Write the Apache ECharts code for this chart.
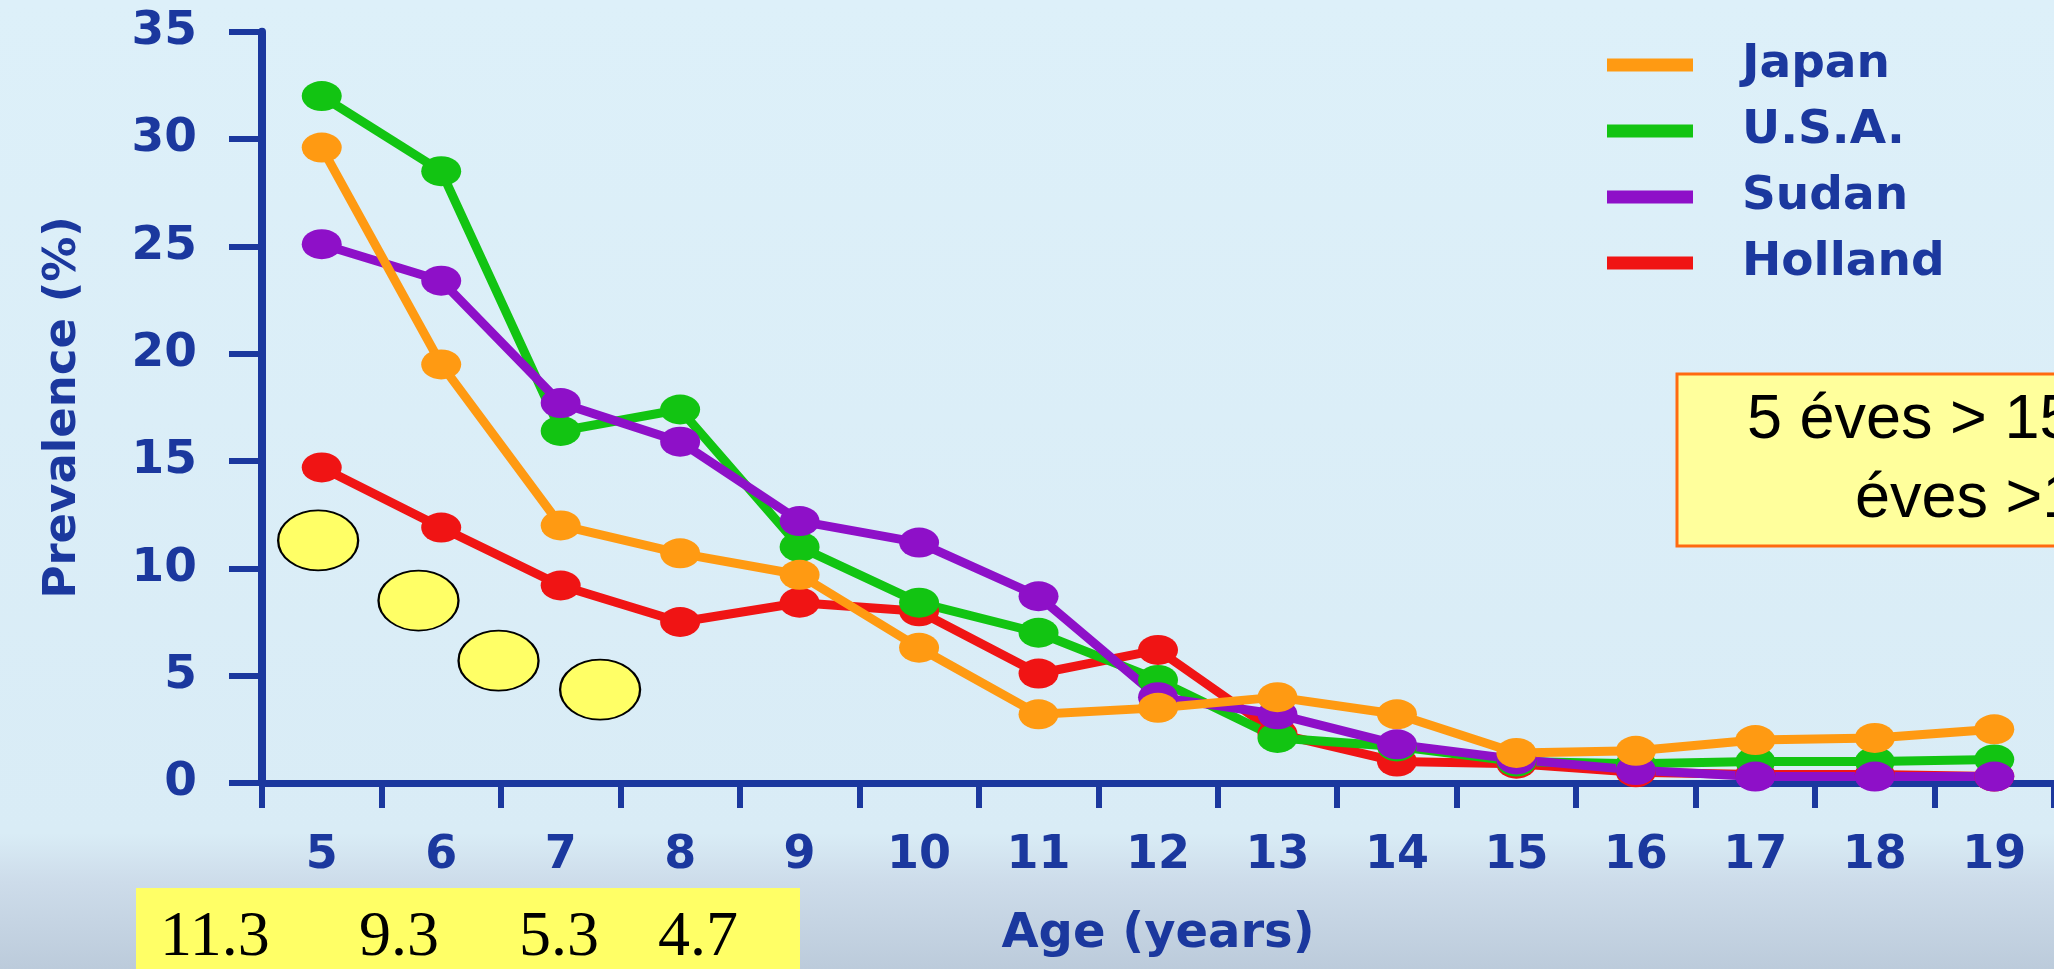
<!DOCTYPE html>
<html><head><meta charset="utf-8">
<script src="https://cdn.jsdelivr.net/npm/echarts@6/dist/echarts.min.js"></script>
<style>html,body{margin:0;padding:0;overflow:hidden;background:#dcf0fa}#c{width:2054px;height:969px}</style>
</head><body><div id="c"></div>
<script>
// ---- data ----
const ages    = ['5','6','7','8','9','10','11','12','13','14','15','16','17','18','19'];
const japan   = [29.6, 19.5, 12.0, 10.7, 9.7, 6.3, 3.2, 3.5, 4.0, 3.2, 1.4, 1.5, 2.0, 2.1, 2.5];
const usa     = [32.0, 28.5, 16.4, 17.4, 11.0, 8.4, 7.0, 4.8, 2.1, 1.7, 1.0, 0.9, 1.0, 1.0, 1.1];
const sudan   = [25.1, 23.4, 17.7, 15.9, 12.2, 11.2, 8.7, 4.0, 3.2, 1.8, 1.1, 0.6, 0.3, 0.3, 0.3];
const holland = [14.7, 11.9, 9.2, 7.5, 8.4, 8.0, 5.1, 6.2, 2.3, 1.0, 0.9, 0.5, 0.4, 0.4, 0.3];
const seriesNames = ['Japan', 'U.S.A.', 'Sudan', 'Holland'];
// yellow ellipse annotations (x in category units from the left axis, y in %)
const ellipseX = [0.47, 1.31, 1.98, 2.83];
const ellipseY = [11.3, 8.5, 5.7, 4.35];
const bottomLabels = ['11.3', '9.3', '5.3', '4.7'];
const boxLines = ['5 éves > 15', 'éves >1'];

const NAVY = '#1b389e';
const COLORS = {Japan:'#ff9a12', 'U.S.A.':'#12c412', Sudan:'#8e10c8', Holland:'#f01414'};
const ELLIPSE = 'path://M0,50A50,50,0,1,1,100,50A50,50,0,1,1,0,50Z';
const FONT = 'DejaVu Sans';

function lineSeries(name, data) {
  return {
    name: name, type: 'line', data: data,
    xAxisIndex: 0, yAxisIndex: 0,
    symbol: ELLIPSE, symbolSize: [40, 30], showAllSymbol: true,
    lineStyle: {color: COLORS[name], width: 9},
    itemStyle: {color: COLORS[name]},
    silent: true
  };
}

const chart = echarts.init(document.getElementById('c'), null, {renderer: 'canvas'});
const option = {
  animation: false,
  backgroundColor: {
    type: 'linear', x: 0, y: 0, x2: 0, y2: 1,
    colorStops: [
      {offset: 0, color: '#ddf0f9'},
      {offset: 0.86, color: '#d9ecf6'},
      {offset: 0.91, color: '#cddcea'},
      {offset: 1, color: '#bccbdb'}
    ]
  },
  grid: {left: 262, right: 0, top: 31.7, bottom: 186, containLabel: false},
  legend: {
    data: seriesNames, orient: 'vertical', left: 1602, top: 35,
    icon: 'rect', itemWidth: 86, itemHeight: 13, itemGap: 16,
    textStyle: {fontFamily: FONT, fontWeight: 'bold', fontSize: 47, color: NAVY, lineHeight: 50, padding: [0, 0, 0, 44]}
  },
  xAxis: [{
    type: 'category', data: ages, boundaryGap: true,
    axisLine: {lineStyle: {color: NAVY, width: 7}},
    axisTick: {show: true, interval: 0, length: 25, lineStyle: {color: NAVY, width: 6}},
    axisLabel: {interval: 0, margin: 50, fontFamily: FONT, fontWeight: 'bold', fontSize: 46, color: NAVY},
    splitLine: {show: false},
    name: 'Age (years)', nameLocation: 'middle', nameGap: 128,
    nameTextStyle: {fontFamily: FONT, fontWeight: 'bold', fontSize: 48, color: NAVY}
  }, {
    type: 'value', min: 0, max: 15, show: false
  }],
  yAxis: [{
    type: 'value', min: 0, max: 35, interval: 5,
    axisLine: {show: true, lineStyle: {color: NAVY, width: 8}},
    axisTick: {show: true, length: 33, lineStyle: {color: NAVY, width: 6}},
    axisLabel: {margin: 65, fontFamily: FONT, fontWeight: 'bold', fontSize: 47, color: NAVY},
    splitLine: {show: false},
    name: 'Prevalence (%)', nameLocation: 'middle', nameRotate: 90, nameGap: 176,
    nameTextStyle: {fontFamily: FONT, fontWeight: 'bold', fontSize: 45, color: NAVY}
  }],
  series: [
    lineSeries('Holland', holland),
    lineSeries('U.S.A.', usa),
    lineSeries('Sudan', sudan),
    lineSeries('Japan', japan),
    {
      name: 'annot', type: 'scatter', xAxisIndex: 1, yAxisIndex: 0,
      data: ellipseX.map((x, i) => [x, ellipseY[i]]),
      symbol: ELLIPSE, symbolSize: [80, 60], z: 5, silent: true,
      itemStyle: {color: '#ffff66', borderColor: '#000000', borderWidth: 2, opacity: 1}
    }
  ],
  graphic: [
    {type: 'rect', z: 100, shape: {x: 1677, y: 374, width: 420, height: 172},
     style: {fill: '#ffff9c', stroke: '#ff6a10', lineWidth: 3}},
    {type: 'text', z: 101, style: {x: 1747, y: 421, text: boxLines[0], fill: '#000',
      font: '63px "Liberation Sans"', verticalAlign: 'middle', align: 'left'}},
    {type: 'text', z: 101, style: {x: 1855, y: 500, text: boxLines[1], fill: '#000',
      font: '63px "Liberation Sans"', verticalAlign: 'middle', align: 'left'}},
    {type: 'rect', z: 100, shape: {x: 136, y: 888, width: 664, height: 90},
     style: {fill: '#ffff66'}},
    {type: 'text', z: 101, style: {x: 160, y: 938, text: bottomLabels[0], fill: '#000', font: '64px "Liberation Serif"', verticalAlign: 'middle'}},
    {type: 'text', z: 101, style: {x: 359, y: 938, text: bottomLabels[1], fill: '#000', font: '64px "Liberation Serif"', verticalAlign: 'middle'}},
    {type: 'text', z: 101, style: {x: 519, y: 938, text: bottomLabels[2], fill: '#000', font: '64px "Liberation Serif"', verticalAlign: 'middle'}},
    {type: 'text', z: 101, style: {x: 658, y: 938, text: bottomLabels[3], fill: '#000', font: '64px "Liberation Serif"', verticalAlign: 'middle'}}
  ]
};
chart.setOption(option);
</script>
</body></html>
